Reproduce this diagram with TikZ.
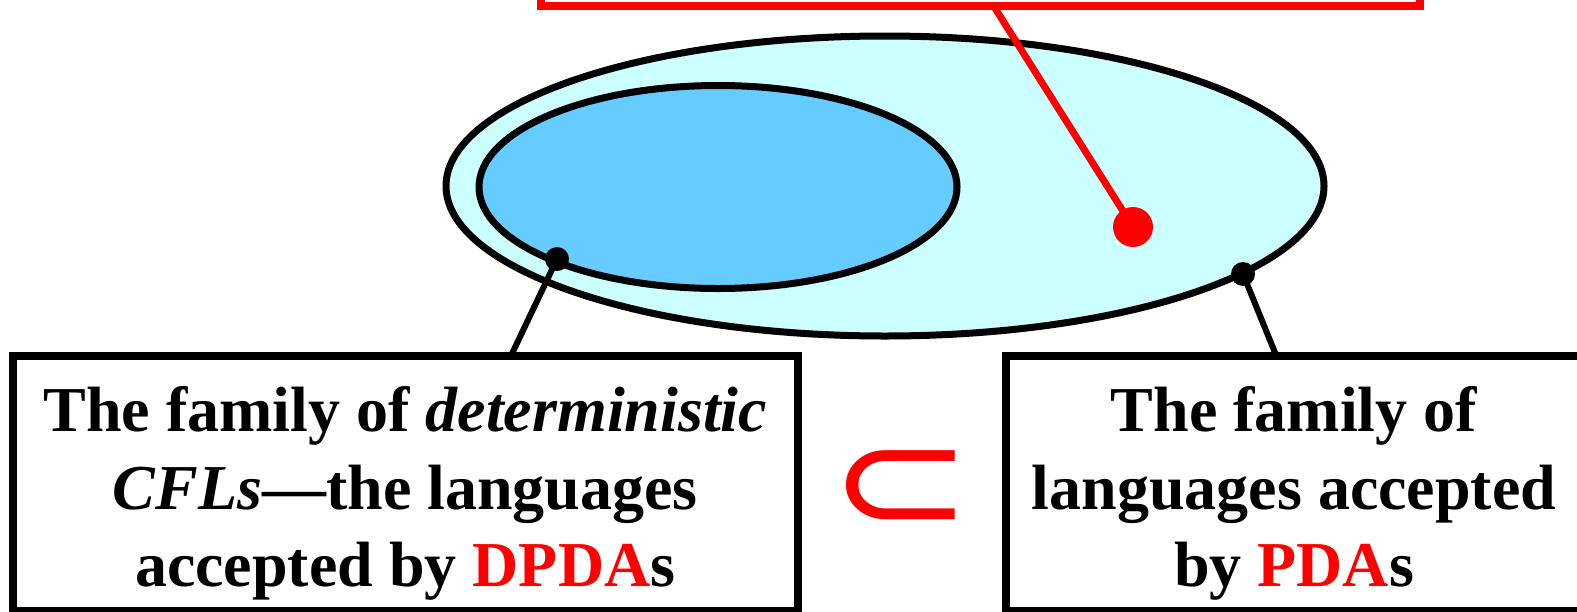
\documentclass[tikz,border=0pt]{standalone}
\usepackage{fontspec}
\setmainfont{Liberation Serif}
\newfontfamily\symfont{DejaVu Sans}
\usetikzlibrary{shapes.geometric}
\definecolor{outerfill}{HTML}{CCFFFF}
\definecolor{innerfill}{HTML}{66CCFF}
\definecolor{pdared}{HTML}{FF0000}
\begin{document}
\begin{tikzpicture}[x=0.5pt,y=-0.5pt,
  setshape/.style={ellipse, draw=black, line width=3.5pt, inner sep=0pt},
  labelbox/.style={draw=black, line width=4pt, fill=white, inner sep=0pt},
  boxtext/.style={font=\fontsize{32}{38.75}\selectfont\bfseries, align=center},
  conn/.style={line width=3pt},
  dotmark/.style={circle, fill=black, inner sep=0pt, minimum size=12pt},
]
\useasboundingbox (0,0) rectangle (1577,611);
\clip (0,0) rectangle (1577,611);
\node[draw=pdared, line width=4pt, fill=white, minimum width=439.5pt, minimum height=52pt, inner sep=0pt] (topbox) at (980.5,-46.5) {};
\node[setshape, fill=outerfill, minimum width=439pt, minimum height=150pt] (outer) at (885,186) {};
\node[setshape, fill=innerfill, minimum width=239pt, minimum height=101.5pt] (inner) at (718,187) {};
\coordinate (redtop) at (993,5);
\node[circle, fill=pdared, inner sep=0pt, minimum size=20pt] (reddot) at (1133,227) {};
\draw[conn, draw=pdared, line width=3.5pt] (redtop) -- (reddot.center);
\coordinate (ldot) at (557,259);
\coordinate (lend) at (509,360);
\coordinate (rdot) at (1243,274);
\coordinate (rend) at (1278,360);
\draw[conn] (ldot) -- (lend);
\draw[conn] (rdot) -- (rend);
\node[dotmark] (ldotm) at (ldot) {};
\node[dotmark] (rdotm) at (rdot) {};
\node[labelbox, minimum width=392.25pt, minimum height=127.5pt] (lbox) at (405.25,483.5) {};
\node[labelbox, minimum width=288.5pt, minimum height=127.5pt] (rbox) at (1294,483.5) {};
\node[boxtext] (ltext) at (405.25,493.5) {The family of \textit{deterministic}\\\textit{CFLs}---the languages\\accepted by \textcolor{pdared}{DPDA}s};
\node[boxtext] (rtext) at (1294,493.5) {The family of\\languages accepted\\by \textcolor{pdared}{PDA}s};
\node[text=pdared, font=\symfont\fontsize{74}{76}\selectfont, inner sep=0pt] (subsetsym) at (901,491) {\scalebox{1.15}[1]{⊂}};
\end{tikzpicture}
\end{document}
